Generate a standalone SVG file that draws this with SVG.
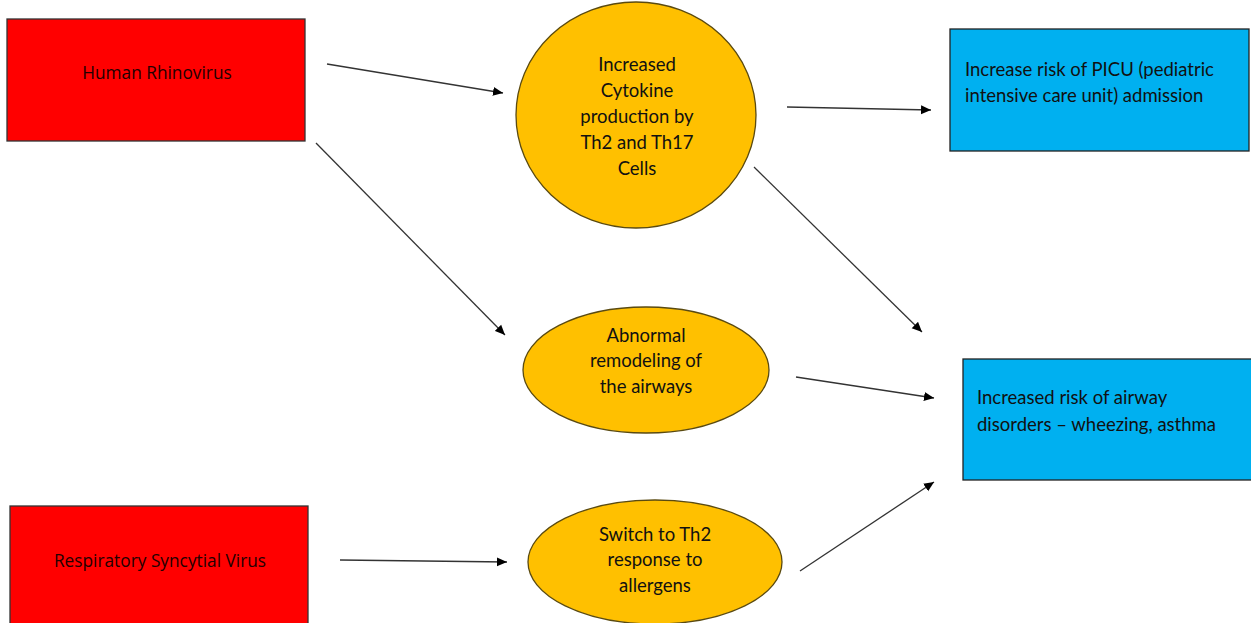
<svg xmlns="http://www.w3.org/2000/svg" width="1251" height="623" viewBox="0 0 1251 623">
<style>
.red{fill:#ff0000;stroke:#333;stroke-width:1.3}
.blue{fill:#00b0f0;stroke:#222;stroke-width:1.3}
.oval{fill:#ffc000;stroke:#5a4a10;stroke-width:1.3}
text{font-family:Lato,"Liberation Sans",sans-serif;font-size:18.5px;fill:#111}
.ub{font-family:"Open Sans","Liberation Sans",sans-serif;font-size:17.3px;fill:#200}
.c{text-anchor:middle}
.conn line{stroke:#333;stroke-width:1.3;fill:none}
</style>
<defs>
<marker id="ah" viewBox="0 0 10 10" refX="10" refY="5" markerWidth="10" markerHeight="10" markerUnits="userSpaceOnUse" orient="auto">
<path d="M0,0.5 L10,5 L0,9.5 z" fill="#000"/>
</marker>
</defs>
<rect width="1251" height="623" fill="#fff"/>
<g id="n-hrv">
<rect class="red" x="7" y="19" width="298" height="122"/>
<text class="ub c" x="157" y="79">Human Rhinovirus</text>
</g>
<g id="n-rsv">
<rect class="red" x="10" y="506" width="298" height="125"/>
<text class="ub c" x="160" y="567">Respiratory Syncytial Virus</text>
</g>
<g id="n-cyto">
<ellipse class="oval" cx="636" cy="115" rx="120" ry="113"/>
<text class="c" x="637" y="71">Increased</text>
<text class="c" x="637" y="97">Cytokine</text>
<text class="c" x="637" y="123">production by</text>
<text class="c" x="637" y="149">Th2 and Th17</text>
<text class="c" x="637" y="175">Cells</text>
</g>
<g id="n-remodel">
<ellipse class="oval" cx="646" cy="370" rx="123" ry="63"/>
<text class="c" x="646" y="342">Abnormal</text>
<text class="c" x="646" y="367">remodeling of</text>
<text class="c" x="646" y="393">the airways</text>
</g>
<g id="n-switch">
<ellipse class="oval" cx="655" cy="562" rx="127" ry="62"/>
<text class="c" x="655" y="541">Switch to Th2</text>
<text class="c" x="655" y="566">response to</text>
<text class="c" x="655" y="592">allergens</text>
</g>
<g id="n-picu">
<rect class="blue" x="950" y="29" width="299" height="122"/>
<text x="965" y="76">Increase risk of PICU (pediatric</text>
<text x="965" y="102">intensive care unit) admission</text>
</g>
<g id="n-airway">
<rect class="blue" x="963" y="359" width="292" height="121"/>
<text x="977" y="404">Increased risk of airway</text>
<text x="977" y="431">disorders – wheezing, asthma</text>
</g>
<g class="conn" id="connectors">
<line x1="327" y1="64" x2="503" y2="93" marker-end="url(#ah)"/>
<line x1="316" y1="143" x2="505" y2="335" marker-end="url(#ah)"/>
<line x1="787" y1="107" x2="931" y2="110" marker-end="url(#ah)"/>
<line x1="754" y1="167" x2="922" y2="332" marker-end="url(#ah)"/>
<line x1="796" y1="377" x2="934" y2="398" marker-end="url(#ah)"/>
<line x1="800" y1="571" x2="934" y2="482" marker-end="url(#ah)"/>
<line x1="340" y1="560" x2="507" y2="562" marker-end="url(#ah)"/>
</g>
</svg>
